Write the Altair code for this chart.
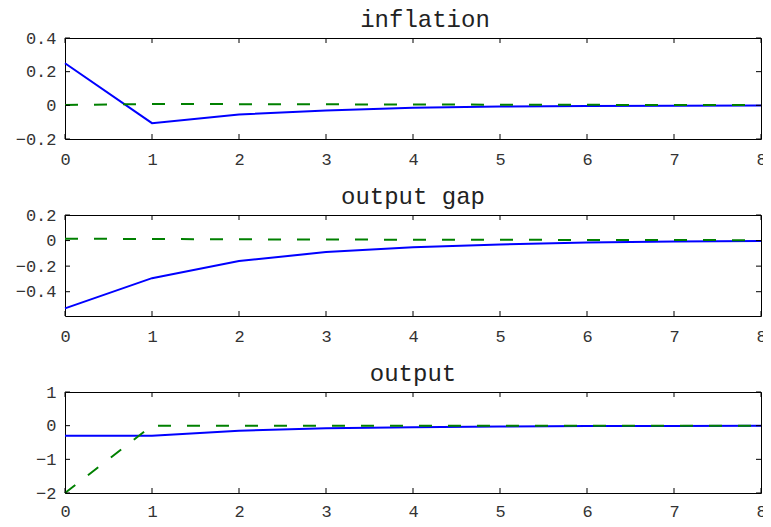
import altair as alt
import pandas as pd

periods = [0, 1, 2, 3, 4, 5, 6, 7, 8]

inflation_solid = [0.25, -0.106, -0.055, -0.030, -0.014, -0.007, -0.004, -0.002, -0.001]
inflation_dashed = [0.002, 0.008, 0.007, 0.006, 0.005, 0.004, 0.003, 0.002, 0.002]

gap_solid = [-0.53, -0.294, -0.160, -0.090, -0.053, -0.030, -0.016, -0.008, -0.004]
gap_dashed = [0.015, 0.012, 0.010, 0.008, 0.007, 0.006, 0.005, 0.004, 0.003]

output_solid = [-0.30, -0.30, -0.15, -0.08, -0.045, -0.025, -0.013, -0.007, -0.003]
output_dashed = [-2.0, 0.0, 0.0, 0.0, 0.0, 0.0, 0.0, 0.0, 0.0]

titles = ["inflation", "output gap", "output"]
y_domains = [[-0.2, 0.4], [-0.59, 0.2], [-2, 1]]
y_ticks = [[-0.2, 0, 0.2, 0.4], [-0.4, -0.2, 0, 0.2], [-2, -1, 0, 1]]
x_ticks = periods

W, H = 696, 101
FONT = "Liberation Mono"
TICK = 5


def panel(title, solid, dashed, dom, ticks, label_pad, title_dx):
    df = pd.DataFrame({"t": periods, "solid": solid, "dashed": dashed})
    xsc = alt.Scale(domain=[0, 8], nice=False, zero=False)
    ysc = alt.Scale(domain=dom, nice=False, zero=False)
    x_axis = alt.Axis(
        values=x_ticks, title=None, grid=False, ticks=False, domain=False,
        labelFlush=False, format="d", labelPadding=label_pad, labelAngle=0,
    )
    y_axis = alt.Axis(
        values=ticks, title=None, grid=False, ticks=False, domain=False,
        labelFlush=False, format="~g", labelPadding=9,
    )
    base = alt.Chart(df)
    solid_line = base.mark_line(color="#0000ff", strokeWidth=2).encode(
        x=alt.X("t:Q", scale=xsc, axis=x_axis),
        y=alt.Y("solid:Q", scale=ysc, axis=y_axis),
    )
    dashed_line = base.mark_line(color="#008000", strokeWidth=2, strokeDash=[13, 16]).encode(
        x=alt.X("t:Q", scale=xsc, axis=x_axis),
        y=alt.Y("dashed:Q", scale=ysc, axis=y_axis),
    )

    xt = alt.Chart(pd.DataFrame({"v": x_ticks}))
    yt = alt.Chart(pd.DataFrame({"v": ticks}))
    xv = alt.X("v:Q", scale=xsc, axis=x_axis)
    yv = alt.Y("v:Q", scale=ysc, axis=y_axis)
    tick_style = dict(color="black", strokeWidth=1)
    xt_top = xt.mark_rule(**tick_style).encode(x=xv, y=alt.value(0), y2=alt.value(TICK))
    xt_bot = xt.mark_rule(**tick_style).encode(x=xv, y=alt.value(H - TICK), y2=alt.value(H))
    yt_left = yt.mark_rule(**tick_style).encode(y=yv, x=alt.value(0), x2=alt.value(TICK))
    yt_right = yt.mark_rule(**tick_style).encode(y=yv, x=alt.value(W - TICK), x2=alt.value(W))

    return alt.layer(solid_line, dashed_line, xt_top, xt_bot, yt_left, yt_right).properties(
        width=W, height=H, title=alt.TitleParams(title, dx=title_dx)
    )


panels = [
    panel(titles[0], inflation_solid, inflation_dashed, y_domains[0], y_ticks[0], 12, 12),
    panel(titles[1], gap_solid, gap_dashed, y_domains[1], y_ticks[1], 12, 0),
    panel(titles[2], output_solid, output_dashed, y_domains[2], y_ticks[2], 10, 0),
]

chart = (
    alt.vconcat(*panels, spacing=16)
    .properties(padding={"left": 6, "top": -1, "right": -4, "bottom": -3}, background="white")
    .configure_view(stroke="black", strokeWidth=1)
    .configure_axis(labelFont=FONT, labelFontSize=17, labelColor="#333333")
    .configure_title(font=FONT, fontSize=24, fontWeight="normal", color="#222222",
                     anchor="middle", offset=-3)
)

chart.save("out.html", embed_options={"renderer": "svg", "actions": False})
